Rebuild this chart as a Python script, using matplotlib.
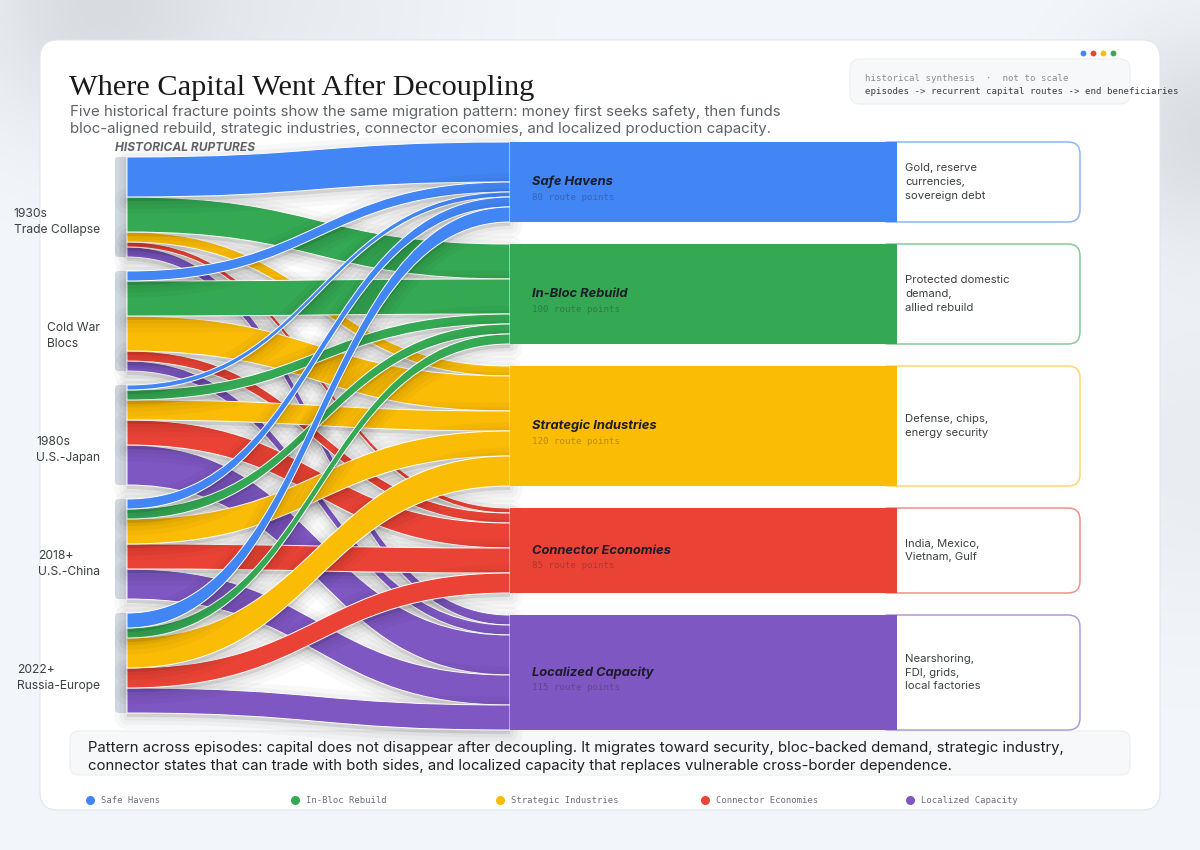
import numpy as np
import matplotlib
matplotlib.use("Agg")
import matplotlib.pyplot as plt
from matplotlib.patches import FancyBboxPatch, PathPatch, Rectangle
from matplotlib.path import Path
from matplotlib.colors import to_rgb

# ---------------- data ----------------
sources = ["1930s\nTrade Collapse", "Cold War\nBlocs", "1980s\nU.S.-Japan",
           "2018+\nU.S.-China", "2022+\nRussia-Europe"]
targets = ["Safe Havens", "In-Bloc Rebuild", "Strategic Industries",
           "Connector Economies", "Localized Capacity"]
target_colors = ["#4285F4", "#34A853", "#FBBC05", "#EA4335", "#7E57C2"]
beneficiaries = ["Gold, reserve\ncurrencies,\nsovereign debt",
                 "Protected domestic\ndemand,\nallied rebuild",
                 "Defense, chips,\nenergy security",
                 "India, Mexico,\nVietnam, Gulf",
                 "Nearshoring,\nFDI, grids,\nlocal factories"]
# route points sent from each episode to each destination (targets order)
flows_1930s = [40, 35, 10, 5, 10]
flows_coldwar = [10, 35, 35, 10, 10]
flows_1980s = [5, 10, 20, 25, 40]
flows_2018 = [10, 10, 25, 25, 30]
flows_2022 = [15, 10, 30, 20, 25]
flow_matrix = np.array([flows_1930s, flows_coldwar, flows_1980s, flows_2018, flows_2022], float)

title = "Where Capital Went After Decoupling"
subtitle = ("Five historical fracture points show the same migration pattern: money first seeks safety, then funds\n"
            "bloc-aligned rebuild, strategic industries, connector economies, and localized production capacity.")
note = ("Pattern across episodes: capital does not disappear after decoupling. It migrates toward security, bloc-backed demand, strategic industry,\n"
        "connector states that can trade with both sides, and localized capacity that replaces vulnerable cross-border dependence.")

# ---------------- layout ----------------
W, H = 1200, 850
fig = plt.figure(figsize=(12, 8.5), dpi=100)
ax = fig.add_axes([0, 0, 1, 1])
ax.set_xlim(0, W)
ax.set_ylim(H, 0)
ax.axis("off")

SANS = ["Inter", "Open Sans", "DejaVu Sans"]
MONO = ["DejaVu Sans Mono"]
SERIF = ["Liberation Serif", "DejaVu Serif"]

# background with soft blobs
yy, xx = np.mgrid[0:H:5, 0:W:5]
base = np.array(to_rgb("#f3f6fb"))
shade = np.zeros_like(xx, float)
for cx, cy, r, a in [(90, 5, 90, 0.10), (1205, 130, 80, 0.10), (1190, 450, 120, 0.04), (300, 0, 120, 0.04)]:
    shade += a * np.exp(-((xx - cx) ** 2 + (yy - cy) ** 2) / (2 * r ** 2))
img = np.clip(base[None, None, :] * (1 - shade[..., None]), 0, 1)
ax.imshow(img, extent=[0, W, H, 0], interpolation="bilinear", zorder=0, aspect="auto")

# card
ax.add_patch(FancyBboxPatch((40, 40), 1120, 770, boxstyle="round,pad=0,rounding_size=18",
                            fc="white", ec="#e2e6ec", lw=0.8, zorder=1))

# title / subtitle
ax.text(69, 95, title, family=SERIF, fontsize=21.9, color="#1a1a1a", va="baseline", zorder=5)
ax.text(70, 104.5, subtitle, family=SANS, fontsize=10.85, color="#5f6368", va="top",
        linespacing=1.3, zorder=5)

# top-right info box
ax.add_patch(FancyBboxPatch((850, 59), 280, 45, boxstyle="round,pad=0,rounding_size=10",
                            fc="#f7f8fa", ec="#eceef2", lw=0.8, zorder=2))
ax.text(865, 78, "historical synthesis  ·  not to scale", family=MONO, fontsize=6.6,
        color="#8a8f96", va="center", zorder=5)
ax.text(865, 91, "episodes -> recurrent capital routes -> end beneficiaries", family=MONO,
        fontsize=6.6, color="#3c4043", va="center", zorder=5)
for i, c in enumerate(["#4285F4", "#EA4335", "#FBBC05", "#34A853"]):
    ax.plot(1083 + 10 * i, 53, "o", ms=4.2, color=c, mec="none", zorder=5)

ax.text(115, 148, "HISTORICAL RUPTURES", family=SANS, fontsize=8.6, fontweight="bold",
        style="italic", color="#5f6368", va="center", zorder=5)

# ---------------- sankey ----------------
scale = 1.0
src_top, src_gap = 157, 14
tgt_top, tgt_gap = 142, 22
x_src0, x_src1 = 115, 127
x_tgt0, x_tgt1, x_box1 = 510, 897, 1080

src_tot = flow_matrix.sum(axis=1)
tgt_tot = flow_matrix.sum(axis=0)
src_y = src_top + np.concatenate([[0], np.cumsum(src_tot[:-1] * scale + src_gap)])
tgt_y = tgt_top + np.concatenate([[0], np.cumsum(tgt_tot[:-1] * scale + tgt_gap)])

src_off = {}
for i in range(len(sources)):
    y = src_y[i]
    for j in range(len(targets)):
        src_off[(i, j)] = y
        y += flow_matrix[i, j] * scale
tgt_off = {}
for j in range(len(targets)):
    y = tgt_y[j]
    for i in range(len(sources)):
        tgt_off[(i, j)] = y
        y += flow_matrix[i, j] * scale

xm = (x_src1 + x_tgt0) / 2
clip = Rectangle((x_src1 + 1, 0), x_tgt0 - x_src1 - 1, H, transform=ax.transData)
z = 3.0
for j in reversed(range(len(targets))):
    for i in range(len(sources)):
        v = flow_matrix[i, j] * scale
        if v <= 0:
            continue
        s0, t0 = src_off[(i, j)], tgt_off[(i, j)]
        s1, t1 = s0 + v, t0 + v
        verts = [(x_src1, s0), (xm, s0), (xm, t0), (x_tgt0, t0), (x_tgt0, t1),
                 (xm, t1), (xm, s1), (x_src1, s1), (x_src1, s0)]
        codes = [Path.MOVETO, Path.CURVE4, Path.CURVE4, Path.CURVE4, Path.LINETO,
                 Path.CURVE4, Path.CURVE4, Path.CURVE4, Path.CLOSEPOLY]
        path = Path(verts, codes)
        sh_path = Path([(x, y + 4) for x, y in verts], codes)
        for lw, a in [(18, 0.026), (11, 0.03), (5, 0.035)]:
            p = PathPatch(sh_path, fc="black", ec="black", lw=lw, alpha=a, zorder=z,
                          joinstyle="round")
            p.set_clip_path(clip)
            ax.add_patch(p)
        ax.add_patch(PathPatch(path, fc=target_colors[j], ec="white", lw=0.7, zorder=z + 0.01))
        z += 0.02

# source nodes
for i, name in enumerate(sources):
    h = src_tot[i] * scale
    ax.add_patch(FancyBboxPatch((x_src0, src_y[i]), x_src1 - x_src0 + 2, h,
                                boxstyle="round,pad=0,rounding_size=4",
                                fc="#d7dee7", ec="none", zorder=2.5))
    ax.text(100, src_y[i] + h / 2 + 15, name, family=SANS, fontsize=8.7, color="#3c4043",
            ha="right", va="center", multialignment="left", linespacing=1.35, zorder=6)

# target nodes + beneficiary boxes
for j, name in enumerate(targets):
    h = tgt_tot[j] * scale
    y0 = tgt_y[j]
    c = np.array(to_rgb(target_colors[j]))
    light = tuple(c * 0.6 + 0.4)
    ax.add_patch(FancyBboxPatch((x_tgt1 - 20, y0), x_box1 - x_tgt1 + 20, h,
                                boxstyle="round,pad=0,rounding_size=12",
                                fc="white", ec=light, lw=1.1, zorder=20))
    ax.add_patch(Rectangle((x_tgt0, y0), x_tgt1 - x_tgt0, h, fc=target_colors[j],
                           ec="none", zorder=21))
    cy = y0 + h / 2
    ax.text(532, cy, name, family=SANS, fontsize=9.3, fontweight="bold", style="italic",
            color="#1c1c28", va="center", zorder=25)
    ax.text(532, cy + 15, f"{int(tgt_tot[j])} route points", family=MONO, fontsize=6.6,
            color="#1c1c28", alpha=0.3, va="center", zorder=25)
    ax.text(905, cy, beneficiaries[j], family=SANS, fontsize=8.1, color="#3c4043",
            va="center", linespacing=1.45, zorder=25)

# bottom note
ax.add_patch(FancyBboxPatch((70, 731), 1060, 44, boxstyle="round,pad=0,rounding_size=9",
                            fc="#f7f8fa", ec="#eceef2", lw=0.8, zorder=2))
ax.text(88, 757, note, family=SANS, fontsize=10.75, color="#202124", va="center",
        linespacing=1.33, zorder=5)

# legend
for j, name in enumerate(targets):
    x = 90 + 205 * j
    ax.plot(x, 800, "o", ms=6.5, color=target_colors[j], mec="none", zorder=5)
    ax.text(x + 11, 800.5, name, family=MONO, fontsize=6.4, color="#6b7078", va="center", zorder=5)

fig.savefig("out.png", dpi=100)
